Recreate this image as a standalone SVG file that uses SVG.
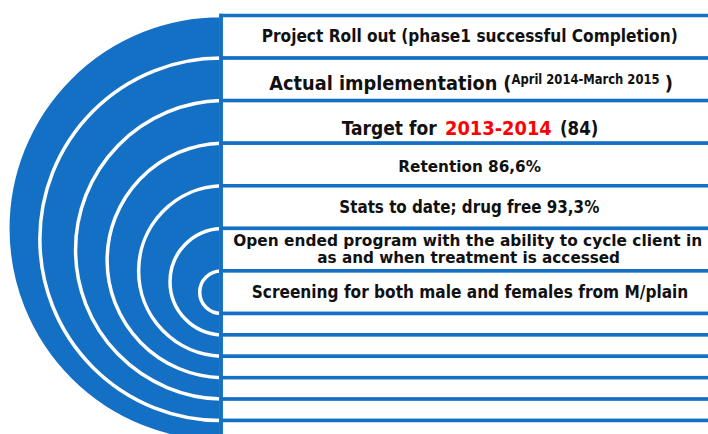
<svg xmlns="http://www.w3.org/2000/svg" width="708" height="434" viewBox="0 0 708 434">
  <style>
    .arc { fill: #1470C4; stroke: #FFFFFF; stroke-width: 3.5; }
    .bar { fill: #FFFFFF; stroke: #1470C4; stroke-width: 3.5; }
    .edge { stroke: #1470C4; stroke-width: 3.4; }
    .t { font-family: "DejaVu Sans Condensed", "DejaVu Sans", sans-serif; font-weight: bold; fill: #111111; }
    .red { fill: #FF0000; }
  </style>
  <rect width="708" height="434" fill="#FFFFFF"/>

  <!-- nested half discs, outermost first -->
  <g id="rings">
    <path class="arc" d="M221,15.5 A213.2,213.2 0 0 0 221,441.9 Z"/>
    <path class="arc" d="M221,58.1 A181.2,181.2 0 0 0 221,420.5 Z"/>
    <path class="arc" d="M221,100.6 A149.3,149.3 0 0 0 221,399.1 Z"/>
    <path class="arc" d="M221,143.2 A117.3,117.3 0 0 0 221,377.7 Z"/>
    <path class="arc" d="M221,185.8 A85.3,85.3 0 0 0 221,356.3 Z"/>
    <path class="arc" d="M221,228.4 A53.3,53.3 0 0 0 221,334.9 Z"/>
    <path class="arc" d="M221,270.9 A21.3,21.3 0 0 0 221,313.5 Z"/>
  </g>

  <g id="bar1">
    <rect class="bar" x="221" y="15.5" width="520" height="42.6"/>
    <text class="t" x="261.7" y="42.3" font-size="17.5" textLength="416" lengthAdjust="spacingAndGlyphs">Project Roll out (phase1 successful Completion)</text>
  </g>
  <g id="bar2">
    <rect class="bar" x="221" y="58.1" width="520" height="42.5"/>
    <text class="t" y="90" font-size="20"><tspan x="269.3" textLength="228" lengthAdjust="spacingAndGlyphs">Actual implementation</tspan><tspan x="503.3">(</tspan><tspan x="511.5" y="84" font-size="13.5" textLength="148" lengthAdjust="spacingAndGlyphs">April 2014-March 2015</tspan><tspan x="664.8" y="90">)</tspan></text>
  </g>
  <g id="bar3">
    <rect class="bar" x="221" y="100.6" width="520" height="42.6"/>
    <text class="t" y="135" font-size="19.5"><tspan x="341.7" textLength="95" lengthAdjust="spacingAndGlyphs">Target for</tspan><tspan class="red" x="445" textLength="106.7" lengthAdjust="spacingAndGlyphs">2013-2014</tspan><tspan x="560" textLength="38.3" lengthAdjust="spacingAndGlyphs">(84)</tspan></text>
  </g>
  <g id="bar4">
    <rect class="bar" x="221" y="143.2" width="520" height="42.6"/>
    <text class="t" x="398.3" y="171.7" font-size="16" textLength="142.7" lengthAdjust="spacingAndGlyphs">Retention 86,6%</text>
  </g>
  <g id="bar5">
    <rect class="bar" x="221" y="185.8" width="520" height="42.6"/>
    <text class="t" x="339.3" y="213.3" font-size="17" textLength="260" lengthAdjust="spacingAndGlyphs">Stats to date; drug free 93,3%</text>
  </g>
  <g id="bar6">
    <rect class="bar" x="221" y="228.4" width="520" height="42.5"/>
    <text class="t" font-size="16.5"><tspan x="233.3" y="245.7" textLength="469" lengthAdjust="spacingAndGlyphs">Open ended program with the ability to cycle client in</tspan><tspan x="317.3" y="263.3" textLength="302.7" lengthAdjust="spacingAndGlyphs">as and when treatment is accessed</tspan></text>
  </g>
  <g id="bar7">
    <rect class="bar" x="221" y="270.9" width="520" height="42.6"/>
    <text class="t" x="251.7" y="297.7" font-size="17" textLength="436.6" lengthAdjust="spacingAndGlyphs">Screening for both male and females from M/plain</text>
  </g>
  <g id="bar8"><rect class="bar" x="221" y="313.5" width="520" height="21.4"/></g>
  <g id="bar9"><rect class="bar" x="221" y="334.9" width="520" height="21.4"/></g>
  <g id="bar10"><rect class="bar" x="221" y="356.3" width="520" height="21.4"/></g>
  <g id="bar11"><rect class="bar" x="221" y="377.7" width="520" height="21.4"/></g>
  <g id="bar12"><rect class="bar" x="221" y="399.1" width="520" height="21.4"/></g>
  <g id="bar13"><rect class="bar" x="221" y="420.5" width="520" height="21.4"/></g>

  <line class="edge" x1="221" y1="13.8" x2="221" y2="434"/>
</svg>
